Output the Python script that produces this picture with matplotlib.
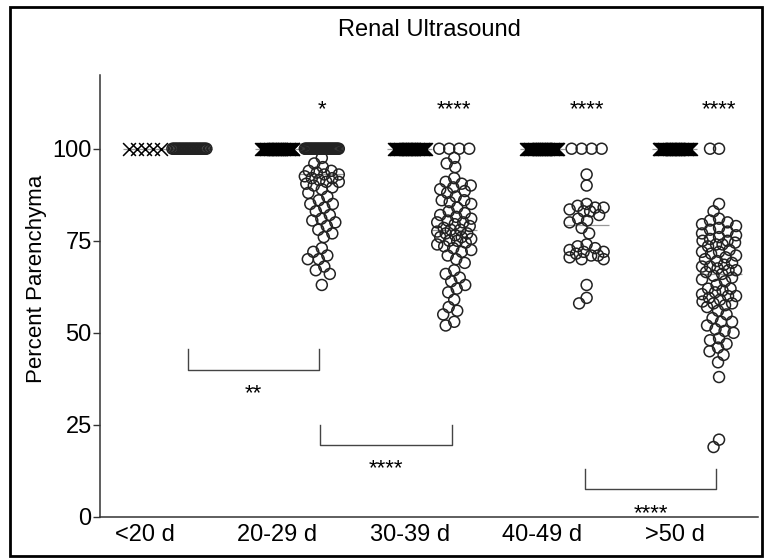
import numpy as np
import matplotlib
matplotlib.use("Agg")
import matplotlib.pyplot as plt
from matplotlib.patches import Rectangle

plt.rcParams['font.family'] = ['Liberation Sans', 'DejaVu Sans']

groups = ["<20 d", "20-29 d", "30-39 d", "40-49 d", ">50 d"]

# left column of each group (x markers), all at 100
cross_vals = [
    [100] * 5,
    [100] * 40,
    [100] * 40,
    [100] * 40,
    [100] * 40,
]

# right column of each group (open circles)
circle_vals = [
    [100] * 25,
    [100] * 30 + [97.5, 96, 95, 94, 94, 93.5, 93, 93, 92.5, 92, 92, 91.5, 91, 91,
                  90.5, 90, 89.5, 89, 88, 87, 86, 85, 85, 84, 83, 82, 81, 80.5, 80,
                  79, 78, 77, 76, 73, 72, 71, 70, 70, 68, 67, 66, 63],
    [100] * 4 + [97.5, 96, 95, 92, 91, 90.5, 90, 89.5, 89, 88.5, 88, 87, 86, 86,
                 85.5, 85, 84, 83, 82.5, 82, 81.5, 81, 80.5, 80, 80, 79.5, 79, 78.5,
                 78, 78, 77.5, 77, 77, 76.5, 76, 76, 75.5, 75, 75, 74.5, 74, 73.5, 73,
                 72.5, 72, 71, 70, 69, 67, 66, 65, 64, 63, 62, 61, 59, 57, 56, 55, 53, 52],
    [100] * 4 + [93, 90, 85, 84.5, 84, 84, 83.5, 83, 83, 82, 81, 80.5, 80, 78.5, 77,
                 74, 73.5, 73, 72.5, 72, 72, 71.5, 71, 71, 70.5, 70, 70, 63, 59.5, 58],
    [100] * 2 + [85, 83, 81, 80.5, 80, 79.5, 79, 78.5, 78, 77.5, 77, 76.5, 76, 75.5,
                 75, 75, 74.5, 74, 74, 73.5, 72.5, 72, 72, 71.5, 71, 70.5, 70, 69.5, 69,
                 68.5, 68, 68, 67.5, 67, 67, 66.5, 66, 65.5, 65, 64.5, 64, 63, 62, 62,
                 61.5, 61, 60.5, 60, 60, 59.5, 59, 58.5, 58, 58, 57.5, 57, 56, 55, 54,
                 53, 53, 52, 51, 50.5, 50, 48.5, 48, 47, 46, 45, 44, 42, 38, 21, 19],
]

top_stars = ["", "*", "****", "****", "****"]
comparisons = [(0, 1, "**"), (1, 2, "****"), (3, 4, "****")]


def swarm(ax, xc, vals, dmin=9.0, half=17.0):
    """beeswarm-ish layout done in pixel space, returns x in data units"""
    vals = np.asarray(vals, float)
    pts = ax.transData.transform(np.column_stack([np.full(len(vals), xc), vals]))
    x0 = pts[0, 0]
    off = np.zeros(len(vals))
    done = np.zeros(len(vals), bool)
    # rows of identical values first, spread evenly
    u, cnt = np.unique(vals, return_counts=True)
    for v, c in zip(u, cnt):
        if c >= 3:
            idx = np.where(vals == v)[0]
            step = min(dmin + 1, 2 * half / (c - 1))
            off[idx] = (np.arange(c) - (c - 1) / 2) * step
            done[idx] = True
    cand = np.arange(-half, half + 0.25, 0.5)
    cand = cand[np.argsort(np.abs(cand), kind="stable")]
    for i in np.argsort(-vals, kind="stable"):
        if done[i]:
            continue
        y = pts[i, 1]
        near = np.where(done & (np.abs(pts[:, 1] - y) < dmin))[0]
        if len(near):
            dx = cand[:, None] - off[near][None, :]
            dy = (pts[near, 1] - y)[None, :]
            d = np.sqrt(dx ** 2 + dy ** 2).min(axis=1)
            ok = np.where(d >= dmin)[0]
            off[i] = cand[ok[0]] if len(ok) else cand[np.argmax(d)]
        done[i] = True
    back = ax.transData.inverted().transform(np.column_stack([x0 + off, pts[:, 1]]))
    return back[:, 0]


fig = plt.figure(figsize=(7.67, 5.58), dpi=100)
ax = fig.add_axes([0.1304, 0.0735, 0.858, 0.792])
ax.set_xlim(-0.34, 4.63)
ax.set_ylim(0, 120)

shift = 0.335  # circle column sits right of the cross column
half_w = 0.17

for i in range(len(groups)):
    xs = swarm(ax, i, cross_vals[i], dmin=10.0, half=16.0)
    ax.hlines(np.median(cross_vals[i]), i - half_w, i + half_w, color="#999999", lw=0.9, zorder=1)
    ax.scatter(xs, cross_vals[i], marker="x", s=85, c="black", linewidths=1.1, zorder=3)

    xs = swarm(ax, i + shift, circle_vals[i])
    ax.hlines(np.median(circle_vals[i]), i + shift - half_w, i + shift + half_w,
              color="#999999", lw=0.9, zorder=1)
    ax.scatter(xs, circle_vals[i], marker="o", s=62, facecolors="none",
               edgecolors="#222222", linewidths=1.1, zorder=2)

    if top_stars[i]:
        ax.text(i + shift, 110.5, top_stars[i], ha="center", va="center", fontsize=16)

# brackets (open upward) with stars below
levels = [40, 19.5, 7.5]
for (a, b, lab), lev in zip(comparisons, levels):
    xa, xb = a + shift - 0.01, b + shift - 0.02
    ax.plot([xa, xa, xb, xb], [lev + 5.6, lev, lev, lev + 5.6], color="#444444", lw=1.0)
    ax.text((xa + xb) / 2, lev - 6.5, lab, ha="center", va="center", fontsize=16)

ax.spines["top"].set_visible(False)
ax.spines["right"].set_visible(False)
for s in ("left", "bottom"):
    ax.spines[s].set_linewidth(1.1)
    ax.spines[s].set_color("#333333")

ax.set_yticks([0, 25, 50, 75, 100])
ax.set_xticks(range(len(groups)))
ax.set_xticklabels(groups)
ax.tick_params(axis="y", length=5, width=1.0, pad=1, labelsize=17, color="#333333")
ax.tick_params(axis="x", length=0, pad=5, labelsize=17)

fig.text(0.048, 0.5, "Percent Parenchyma", rotation=90, ha="center", va="center", fontsize=16)
fig.text(0.56, 0.946, "Renal Ultrasound", ha="center", va="center", fontsize=17)

fig.patches.append(Rectangle((0.013, 0.004), 0.981, 0.983, transform=fig.transFigure,
                             fill=False, lw=2.0, ec="black"))

fig.savefig("out.png", dpi=100)
